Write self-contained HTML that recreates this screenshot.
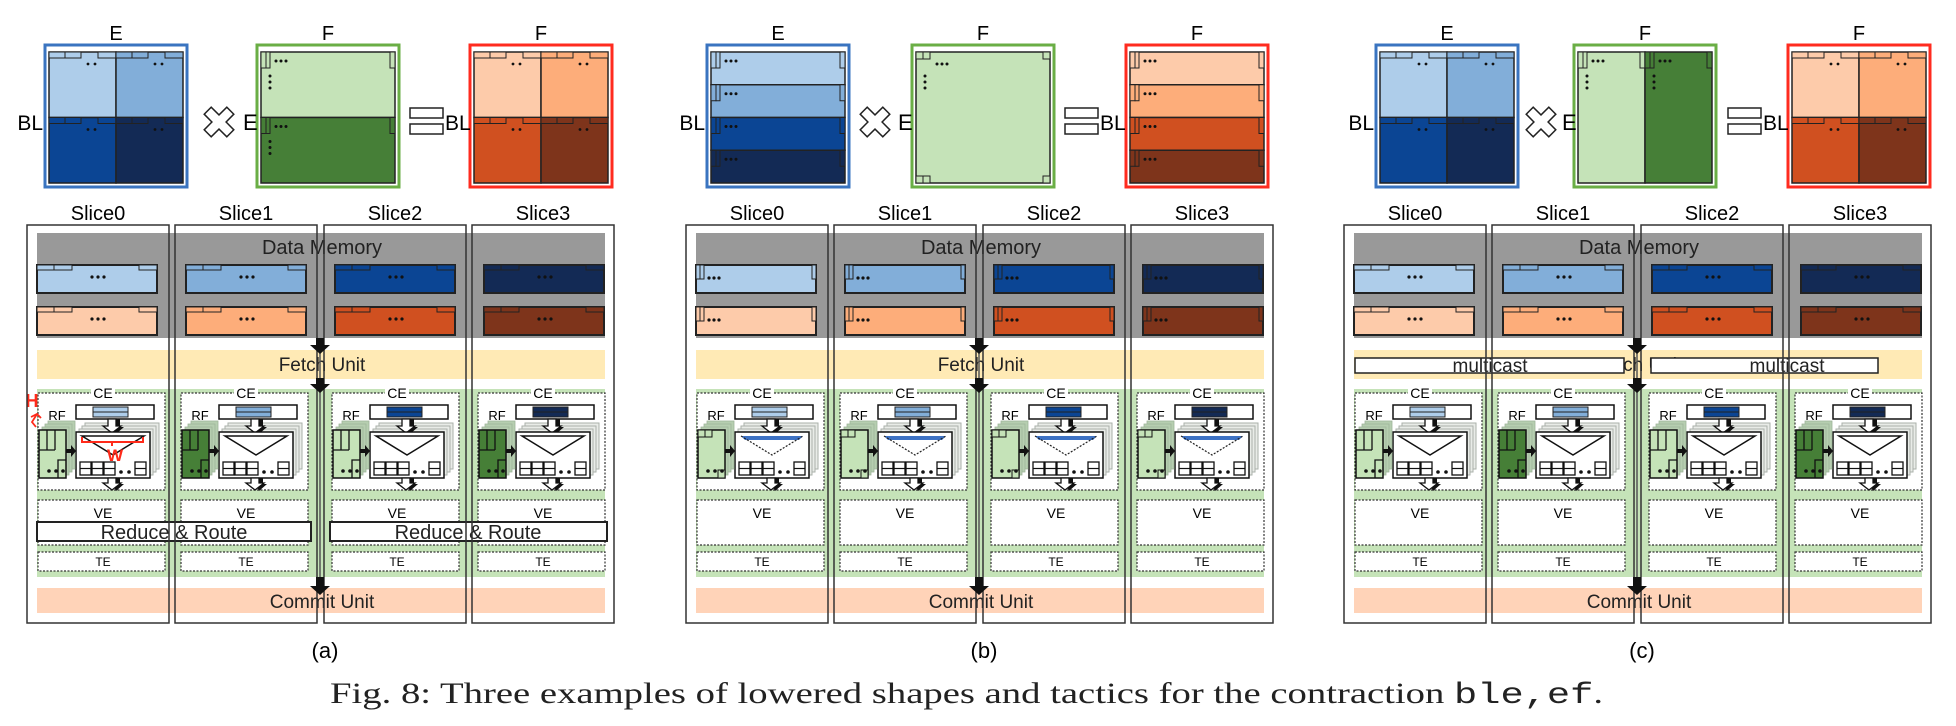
<!DOCTYPE html>
<html><head><meta charset="utf-8">
<style>html,body{margin:0;padding:0;background:#fff;}svg{display:block;}</style>
</head><body>
<svg id="s" width="1956" height="726" viewBox="0 0 1956 726" xmlns="http://www.w3.org/2000/svg" font-family="Liberation Sans, sans-serif"></svg>
<script>
let s='';
function R(x,y,w,h,f,st,sw,ex){return `<rect x="${x}" y="${y}" width="${w}" height="${h}" fill="${f}" stroke="${st||'none'}" stroke-width="${sw||0}" ${ex||''}/>`;}
function T(x,y,t,sz,an,fill,ex){return `<text x="${x}" y="${y}" font-size="${sz}" text-anchor="${an||'middle'}" fill="${fill||'#000'}" ${ex||''}>${t}</text>`;}
function C(x,y,r){return `<circle cx="${x}" cy="${y}" r="${r||1.5}" fill="#111"/>`;}
function P(pts,f,st,sw,ex){return `<polygon points="${pts}" fill="${f}" stroke="${st||'none'}" stroke-width="${sw||0}" ${ex||''}/>`;}
const BL=['#AECDEA','#82AED9','#0B4594','#132A55'];
const OR=['#FDCBAA','#FDAD7A','#D05020','#7E341B'];
const GL='#C5E3B8',GD='#467F37';

function quad(qx,qy,w,h,c){
  s+=R(qx,qy,w,h,c,'#222',1.5);
  s+=R(qx,qy,16,6,c,'#222',1)+R(qx+16,qy,16,6,c,'#222',1)+R(qx+w-18,qy,18,6,c,'#222',1);
  s+=C(qx+39,qy+12,1.4)+C(qx+46,qy+12,1.4);
}
function rowCell(x,y,w,h,c,vd){
  s+=R(x,y,w,h,c,'#222',1.5);
  s+=R(x,y,5,16,c,'#222',1)+R(x+5,y,4,16,c,'#222',1)+R(x+w-5,y,5,16,c,'#222',1);
  s+=C(x+15,y+9)+C(x+20,y+9)+C(x+25,y+9);
  if(vd){s+=C(x+9,y+24)+C(x+9,y+30)+C(x+9,y+36);}
}
function matrix(x,border,kind,cols){
  s+=R(x,45,142,142,'#fff',border,3);
  const ix=x+4,iy=52,iw=134,ih=131;
  if(kind=='q'){const w=67,h=65.5;
    quad(ix,iy,w,h,cols[0]);quad(ix+w,iy,w,h,cols[1]);quad(ix,iy+h,w,h,cols[2]);quad(ix+w,iy+h,w,h,cols[3]);}
  else if(kind=='rows'){const h=ih/4;for(let i=0;i<4;i++)rowCell(ix,iy+i*h,iw,h,cols[i],false);}
  else if(kind=='g2h'){rowCell(ix,iy,iw,ih/2,GL,true);rowCell(ix,iy+ih/2,iw,ih/2,GD,true);}
  else if(kind=='g2v'){rowCell(ix,iy,iw/2,ih,GL,true);rowCell(ix+iw/2,iy,iw/2,ih,GD,true);}
  else if(kind=='g1'){s+=R(ix,iy,iw,ih,GL,'#222',1.5);
    s+=R(ix,iy,7,7,GL,'#222',1)+R(ix+7,iy,7,7,GL,'#222',1)+R(ix+iw-7,iy,7,7,GL,'#222',1);
    s+=R(ix,iy+ih-7,7,7,GL,'#222',1)+R(ix+7,iy+ih-7,7,7,GL,'#222',1)+R(ix+iw-7,iy+ih-7,7,7,GL,'#222',1);
    s+=C(ix+21,iy+12)+C(ix+26,iy+12)+C(ix+31,iy+12)+C(ix+9,iy+24)+C(ix+9,iy+30)+C(ix+9,iy+36);}
}
function cross(cx,cy){const a=5,L=16;const pl=[[-a,-L],[a,-L],[a,-a],[L,-a],[L,a],[a,a],[a,L],[-a,L],[-a,a],[-L,a],[-L,-a],[-a,-a]];
  const k=Math.SQRT1_2;s+=P(pl.map(p=>[(cx+(p[0]-p[1])*k).toFixed(1),(cy+(p[0]+p[1])*k).toFixed(1)].join(',')).join(' '),'#fff','#222',1.5);}
function arrowDown(x,y1,y2,fill){
  const hw=10,sw=4;
  return P(`${x-sw},${y1} ${x+sw},${y1} ${x+sw},${y2-9} ${x+hw},${y2-9} ${x},${y2} ${x-hw},${y2-9} ${x-sw},${y2-9}`,fill);
}
function smallArrow(x,y1,y2){
  let r=P(`${x-2},${y1} ${x+8},${y1} ${x+8},${y2-6} ${x+12},${y2-6} ${x+4},${y2+1}`,'#111');
  r+=P(`${x-4},${y1} ${x+4},${y1} ${x+4},${y2-7} ${x+9},${y2-7} ${x},${y2} ${x-9},${y2-7} ${x-4},${y2-7}`,'#fff','#111',1.3);
  return r;
}
function ce(x0,ci,rfc,type){
  s+=R(x0,393,127,97,'#fff','#333',1.2,'stroke-dasharray="2,1.5"');
  s+=R(x0+53,387,24,11,'#fff');
  s+=T(x0+65,398,'CE',14);
  s+=R(x0+38,405,78,14,'#fff','#111',1.5);
  s+=R(x0+55,407,35,10,BL[ci],'#222',1)+`<line x1="${x0+55}" y1="412" x2="${x0+90}" y2="412" stroke="#222" stroke-width="1"/>`;
  for(let k=3;k>=1;k--) s+=R(x0+38+k*3,432-k*3,74,46,'#e9ece8','#aab0aa',1);
  s+=smallArrow(x0+74,419,433);
  s+=R(x0+38,432,74,46,'#fff','#111',1.5);
  if(type=='b'){
    s+=P(`${x0+44},436 ${x0+106},436 ${x0+102},440 ${x0+48},440`,'#3D72C4');
    s+=`<polyline points="${x0+44},436 ${x0+75},455 ${x0+106},436" fill="none" stroke="#222" stroke-width="1.2" stroke-dasharray="2,1.5"/>`;
  } else {
    s+=P(`${x0+44},436 ${x0+106},436 ${x0+75},455`,'none','#111',1.5);
  }
  [4,16,28,59].forEach(d=>{s+=R(x0+38+d,462,11,13,'#fff','#111',1.3)+`<line x1="${x0+38+d}" y1="468.5" x2="${x0+49+d}" y2="468.5" stroke="#111" stroke-width="1.2"/>`;});
  s+=C(x0+38+45,472,1.8)+C(x0+38+53,472,1.8);
  s+=smallArrow(x0+74,478,490);
  s+=T(x0+19,420,'RF',13);
  for(let k=3;k>=1;k--) s+=R(x0+1+k*3,430-k*3,27,48,'#b6ceb0','#9fb59a',0.8);
  s+=R(x0+1,430,27,48,rfc,'#111',1.5);
  if(type=='b'){
    s+=R(x0+1,430,7,7,rfc,'#111',1)+R(x0+8,430,7,7,rfc,'#111',1);
    s+=R(x0+21,470,7,8,rfc,'#111',1);
  } else {
    s+=`<path d="M${x0+9},430 V450 M${x0+17},430 V450 M${x0+1},450 H${x0+17} M${x0+20},478 V460 H${x0+28}" stroke="#111" stroke-width="1.3" fill="none"/>`;
  }
  s+=C(x0+11,471,1.8)+C(x0+18,471,1.8)+C(x0+25,471,1.8);
  s+=P(`${x0+28},449 ${x0+33},449 ${x0+33},445 ${x0+38},451 ${x0+33},457 ${x0+33},453 ${x0+28},453`,'#111');
  s+=R(x0,500,127,45,'#fff','#333',1.2,'stroke-dasharray="2,1.5"');
  s+=T(x0+65,518,'VE',14);
  s+=R(x0,552,127,19,'#fff','#333',1.2,'stroke-dasharray="2,1.5"');
  s+=T(x0+65,566,'TE',12);
}
function panel(ox,type,mx,label){
  const blueKind=type=='b'?'rows':'q', greenKind={a:'g2h',b:'g1',c:'g2v'}[type], redKind=type=='b'?'rows':'q';
  matrix(mx.b,'#3A74C0',blueKind,BL);
  matrix(mx.g,'#6AAE45',greenKind,null);
  matrix(mx.r,'#FF2B1F',redKind,OR);
  s+=T(mx.b+71,40,'E',20)+T(mx.g+71,40,'F',20)+T(mx.r+71,40,'F',20);
  s+=T(mx.b-2,130,'BL',21,'end');
  cross(mx.x,122);
  s+=T(mx.e,130,'E',22,'start');
  s+=R(mx.eq,108,33,10,'#fff','#222',1.5)+R(mx.eq,124,33,10,'#fff','#222',1.5);
  s+=T(mx.eq+35,130,'BL',21,'start');
  const sb=[27,175,324,472];
  sb.forEach((x,i)=>{s+=T(ox+x+71,220,'Slice'+i,20);});
  s+=R(ox+37,233,568,105,'#999999');
  s+=T(ox+322,254,'Data Memory',20,'middle','#222');
  const mb=[37,186,335,484];
  mb.forEach((x,i)=>{
    [[265,BL[i]],[307,OR[i]]].forEach(([y,c])=>{
      const bx=ox+x;
      s+=R(bx,y,120,28,c,'#222',2);
      if(type=='b'){s+=R(bx,y,4,14,c,'#222',1)+R(bx+4,y,4,14,c,'#222',1)+R(bx+116,y,4,14,c,'#222',1);
        s+=C(bx+13,y+13,1.6)+C(bx+18,y+13,1.6)+C(bx+23,y+13,1.6);}
      else{s+=R(bx,y,17,5,c,'#222',1)+R(bx+17,y,18,5,c,'#222',1)+R(bx+102,y,18,5,c,'#222',1);
        s+=C(bx+55,y+12,1.6)+C(bx+61,y+12,1.6)+C(bx+67,y+12,1.6);}
    });
  });
  s+=R(ox+37,350,568,29,'#FFEAB5');
  s+=T(ox+322,371,'Fetch Unit',19,'middle','#222');
  s+=R(ox+37,389,568,188,GL);
  s+=R(ox+37,588,568,25,'#FFD3B8');
  s+=T(ox+322,608,'Commit Unit',19,'middle','#222');
  const cx=[38,181,332,478];
  const rfc=type=='b'?[GL,GL,GL,GL]:[GL,GD,GL,GD];
  cx.forEach((x,i)=>ce(ox+x,i,rfc[i],type));
  if(type=='a'){
    s+=R(ox+37,522,274,19,'#fff','#222',2)+T(ox+174,539,'Reduce &amp; Route',20,'middle','#222');
    s+=R(ox+330,522,277,19,'#fff','#222',2)+T(ox+468,539,'Reduce &amp; Route',20,'middle','#222');
    s+=T(ox+32,407,'H',18,'middle','#FF2A1A','font-weight="bold"');
    s+=`<path d="M${ox+31},417 l6,-3 l4,4 M${ox+37},414 l-5,8 l4,5" stroke="#FF2A1A" stroke-width="1.8" fill="none"/>`;
    s+=`<path d="M${ox+82},437 v5 h61 v-5 M${ox+112},442 v4" stroke="#FF2A1A" stroke-width="2" fill="none"/>`;
    s+=T(ox+115,461,'W',17,'middle','#FF2A1A','font-weight="bold"');
  }
  if(type=='c'){
    s+=R(ox+38,358,269,15,'#fff','#222',1.5)+T(ox+173,372,'multicast',19,'middle','#222');
    s+=R(ox+334,358,227,15,'#fff','#222',1.5)+T(ox+470,372,'multicast',19,'middle','#222');
  }
  sb.forEach(x=>{s+=R(ox+x,225,142,398,'none','#333',1.5);});
  s+=`<line x1="${ox+320}" y1="338" x2="${ox+320}" y2="590" stroke="#555" stroke-width="1.5"/>`;
  s+=arrowDown(ox+320,338,354,'#111')+arrowDown(ox+320,378,393,'#111')+arrowDown(ox+320,577,595,'#111');
  s+=T(ox+325,658,label,22);
}
panel(0,'a',{b:45,g:257,r:470,x:219,e:243,eq:410},'(a)');
panel(659,'b',{b:707,g:912,r:1126,x:875,e:898,eq:1065},'(b)');
panel(1317,'c',{b:1376,g:1574,r:1788,x:1541,e:1562,eq:1728},'(c)');
s+=`<text x="330" y="703" font-family="Liberation Serif, serif" font-size="30" fill="#222" textLength="1273" lengthAdjust="spacingAndGlyphs">Fig. 8: Three examples of lowered shapes and tactics for the contraction <tspan font-family="Liberation Mono, monospace">ble,ef</tspan>.</text>`;
document.getElementById('s').innerHTML=s;
</script>
</body></html>
